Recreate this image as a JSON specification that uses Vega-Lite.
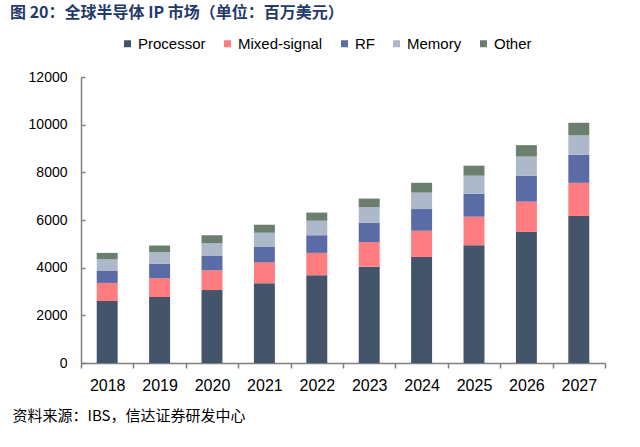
{
  "$schema": "https://vega.github.io/schema/vega-lite/v6.json",
  "description": "Global semiconductor IP market, stacked bars by segment (USD million).",
  "width": 524,
  "height": 286,
  "autosize": "none",
  "padding": {"left": 81, "top": 77, "right": 35, "bottom": 84},
  "background": "white",
  "title": {
    "text": "图 20：全球半导体 IP 市场（单位：百万美元）",
    "anchor": "start",
    "frame": "group",
    "dx": -71,
    "offset": 15,
    "font": "Noto Sans CJK SC",
    "fontSize": 16,
    "fontWeight": "bold",
    "color": "#243a6b"
  },
  "data": {
    "values": [
      {"year": "2018", "Processor": 2600, "Mixed-signal": 760, "RF": 500, "Memory": 490, "Other": 270},
      {"year": "2019", "Processor": 2770, "Mixed-signal": 790, "RF": 600, "Memory": 490, "Other": 280},
      {"year": "2020", "Processor": 3060, "Mixed-signal": 830, "RF": 600, "Memory": 530, "Other": 340},
      {"year": "2021", "Processor": 3350, "Mixed-signal": 870, "RF": 670, "Memory": 570, "Other": 340},
      {"year": "2022", "Processor": 3680, "Mixed-signal": 940, "RF": 740, "Memory": 610, "Other": 340},
      {"year": "2023", "Processor": 4040, "Mixed-signal": 1030, "RF": 810, "Memory": 660, "Other": 360},
      {"year": "2024", "Processor": 4450, "Mixed-signal": 1100, "RF": 910, "Memory": 690, "Other": 410},
      {"year": "2025", "Processor": 4940, "Mixed-signal": 1200, "RF": 960, "Memory": 760, "Other": 420},
      {"year": "2026", "Processor": 5500, "Mixed-signal": 1270, "RF": 1090, "Memory": 800, "Other": 480},
      {"year": "2027", "Processor": 6170, "Mixed-signal": 1390, "RF": 1180, "Memory": 810, "Other": 530}
    ]
  },
  "transform": [
    {"fold": ["Processor", "Mixed-signal", "RF", "Memory", "Other"], "as": ["segment", "value"]},
    {"calculate": "indexof(['Processor', 'Mixed-signal', 'RF', 'Memory', 'Other'], datum.segment)", "as": "stackOrder"}
  ],
  "mark": {"type": "bar", "width": {"band": 0.4}},
  "encoding": {
    "x": {
      "field": "year",
      "type": "ordinal",
      "title": "资料来源：IBS，信达证券研发中心",
      "scale": {"paddingInner": 0, "paddingOuter": 0},
      "axis": {
        "labelAngle": 0,
        "labelFont": "Liberation Sans",
        "labelFontSize": 16,
        "labelColor": "#000000",
        "labelPadding": 9,
        "tickBand": "extent",
        "tickSize": 5,
        "tickColor": "#7f7f7f",
        "tickWidth": 1.5,
        "domainColor": "#7f7f7f",
        "domainWidth": 1.5,
        "titleX": -69,
        "titleY": 45,
        "titleAlign": "left",
        "titleBaseline": "top",
        "titleFont": "Noto Sans CJK SC",
        "titleFontSize": 15,
        "titleFontWeight": "normal",
        "titleColor": "#000000"
      }
    },
    "y": {
      "field": "value",
      "type": "quantitative",
      "stack": "zero",
      "title": null,
      "scale": {"domain": [0, 12000], "nice": false},
      "axis": {
        "values": [0, 2000, 4000, 6000, 8000, 10000, 12000],
        "format": "d",
        "grid": false,
        "labelFont": "Liberation Sans",
        "labelFontSize": 14,
        "labelColor": "#000000",
        "labelPadding": 18,
        "tickSize": -4,
        "tickColor": "#7f7f7f",
        "tickWidth": 1.5,
        "domainColor": "#7f7f7f",
        "domainWidth": 1.5
      }
    },
    "color": {
      "field": "segment",
      "type": "nominal",
      "sort": ["Processor", "Mixed-signal", "RF", "Memory", "Other"],
      "scale": {
        "domain": ["Processor", "Mixed-signal", "RF", "Memory", "Other"],
        "range": ["#44546a", "#ff7c80", "#5a6ba6", "#adb9ca", "#6b7f6f"]
      },
      "legend": {
        "orient": "none",
        "direction": "horizontal",
        "legendX": 39,
        "legendY": -41,
        "title": null,
        "symbolType": "square",
        "symbolSize": 49,
        "symbolStrokeWidth": 0,
        "labelFont": "Liberation Sans",
        "labelFontSize": 15,
        "labelColor": "#000000",
        "labelOffset": 3,
        "columnPadding": 14
      }
    },
    "order": {"field": "stackOrder", "type": "quantitative", "sort": "ascending"}
  },
  "config": {
    "view": {"stroke": null},
    "axis": {"labelOverlap": false}
  }
}
